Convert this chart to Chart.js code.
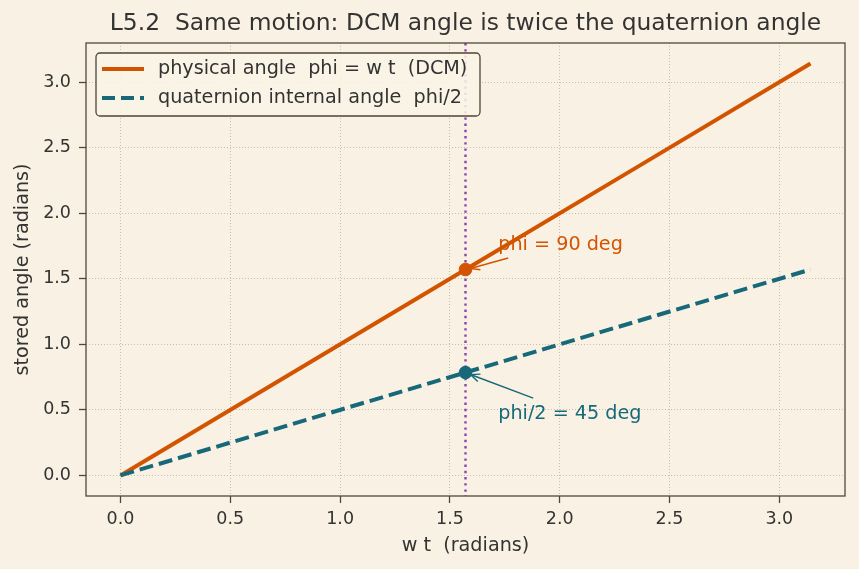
<!DOCTYPE html>
<html><head><meta charset="utf-8">
<script src="https://cdn.jsdelivr.net/npm/chart.js@4"></script>
<style>
html,body{margin:0;padding:0;background:#f9f2e4;}
#wrap{width:859px;height:569px;position:relative;}
</style></head>
<body><div id="wrap"><canvas id="c" width="859" height="569"></canvas></div>
<script>
// ---- data ----
const xValues = [0, 0.785, 1.571, 2.356, 3.142];
const physicalAngle = [0, 0.785, 1.571, 2.356, 3.142];
const quaternionAngle = [0, 0.393, 0.785, 1.178, 1.571];
const markerX = [1.571];
const markerPhysical = [1.571];
const markerQuat = [0.785];
const vlineX = 1.571;
const xTickValues = [0, 0.5, 1.0, 1.5, 2.0, 2.5, 3.0];
const yTickValues = [0, 0.5, 1.0, 1.5, 2.0, 2.5, 3.0];
const annoPhysical = {text: 'phi = 90 deg', textX: 1.72, textY: 1.72, tipX: 1.571, tipY: 1.571};
const annoQuat = {text: 'phi/2 = 45 deg', textX: 1.72, textY: 0.43, tipX: 1.571, tipY: 0.785};
const titleText = 'L5.2  Same motion: DCM angle is twice the quaternion angle';
const xTitle = 'w t  (radians)';
const yTitle = 'stored angle (radians)';
const legendLabels = ['physical angle  phi = w t  (DCM)', 'quaternion internal angle  phi/2'];

const ORANGE = '#d35400', TEAL = '#17697a', PURPLE = '#8e44ad';
const TEXT = '#333333', SPINE = '#504738', GRID = '#b9b1a2', BG = '#f9f2e4';
const FONT = "'DejaVu Sans', sans-serif";
const TICK_SIZE = 17.5, LABEL_SIZE = 19.2, TITLE_SIZE = 23.4, LEGEND_SIZE = 19.2;

const bgPlugin = {
  id: 'bg',
  beforeDraw(chart) {
    const ctx = chart.ctx;
    ctx.save(); ctx.fillStyle = BG; ctx.fillRect(0, 0, chart.width, chart.height); ctx.restore();
  }
};

function arrow(ctx, x1, y1, x2, y2, color) {
  ctx.save();
  ctx.strokeStyle = color; ctx.lineWidth = 1.4;
  ctx.beginPath(); ctx.moveTo(x1, y1); ctx.lineTo(x2, y2); ctx.stroke();
  const a = Math.atan2(y2 - y1, x2 - x1), L = 10, w = 0.4;
  ctx.beginPath();
  ctx.moveTo(x2 - L * Math.cos(a - w), y2 - L * Math.sin(a - w));
  ctx.lineTo(x2, y2);
  ctx.lineTo(x2 - L * Math.cos(a + w), y2 - L * Math.sin(a + w));
  ctx.stroke();
  ctx.restore();
}

const decoPlugin = {
  id: 'deco',
  beforeDatasetsDraw(chart) {
    const {ctx, chartArea: a, scales: {x}} = chart;
    const px = x.getPixelForValue(vlineX);
    ctx.save();
    ctx.strokeStyle = PURPLE; ctx.lineWidth = 2.4; ctx.setLineDash([2.4, 3.8]);
    ctx.beginPath(); ctx.moveTo(px, a.top); ctx.lineTo(px, a.bottom); ctx.stroke();
    ctx.restore();
  },
  afterDraw(chart) {
    const {ctx, chartArea: a, scales: {x, y}} = chart;
    ctx.save();
    // frame
    ctx.strokeStyle = SPINE; ctx.lineWidth = 1.3;
    ctx.strokeRect(a.left, a.top, a.right - a.left, a.bottom - a.top);
    // title
    ctx.fillStyle = TEXT; ctx.font = TITLE_SIZE + 'px ' + FONT;
    ctx.textAlign = 'center'; ctx.textBaseline = 'middle';
    ctx.fillText(titleText, (a.left + a.right) / 2, 24);
    // annotations
    ctx.font = LEGEND_SIZE + 'px ' + FONT; ctx.textAlign = 'left'; ctx.textBaseline = 'alphabetic';
    [[annoPhysical, ORANGE], [annoQuat, TEAL]].forEach(([an, col]) => {
      ctx.fillStyle = col;
      ctx.fillText(an.text, x.getPixelForValue(an.textX), y.getPixelForValue(an.textY));
    });
    const t1x = x.getPixelForValue(annoPhysical.textX), t1y = y.getPixelForValue(annoPhysical.textY);
    arrow(ctx, t1x + 10, t1y + 8, x.getPixelForValue(annoPhysical.tipX) + 5, y.getPixelForValue(annoPhysical.tipY) - 1, ORANGE);
    const t2x = x.getPixelForValue(annoQuat.textX), t2y = y.getPixelForValue(annoQuat.textY);
    arrow(ctx, t2x + 35, t2y - 21, x.getPixelForValue(annoQuat.tipX) + 5, y.getPixelForValue(annoQuat.tipY) + 2, TEAL);
    // legend
    const lx = 96, ly = 53, lw = 384, lh = 63, r = 4;
    ctx.fillStyle = 'rgba(250,244,232,0.85)';
    ctx.strokeStyle = '#4d4436'; ctx.lineWidth = 1.3;
    ctx.beginPath(); ctx.roundRect(lx, ly, lw, lh, r); ctx.fill(); ctx.stroke();
    ctx.lineWidth = 4;
    ctx.strokeStyle = ORANGE; ctx.setLineDash([]);
    ctx.beginPath(); ctx.moveTo(102, 69); ctx.lineTo(144, 69); ctx.stroke();
    ctx.strokeStyle = TEAL; ctx.setLineDash([13, 6]);
    ctx.beginPath(); ctx.moveTo(102, 98); ctx.lineTo(144, 98); ctx.stroke();
    ctx.setLineDash([]);
    ctx.fillStyle = TEXT; ctx.font = LEGEND_SIZE + 'px ' + FONT; ctx.textBaseline = 'middle';
    ctx.fillText(legendLabels[0], 158, 69);
    ctx.fillText(legendLabels[1], 158, 98);
    ctx.restore();
  }
};

const gridOpts = {color: GRID, lineWidth: 0.8, tickLength: 7,
                  tickColor: SPINE, tickWidth: 1.3, tickBorderDash: []};

new Chart(document.getElementById('c'), {
  type: 'line',
  data: {
    datasets: [
      {label: legendLabels[0], data: xValues.map((v, i) => ({x: v, y: physicalAngle[i]})),
       borderColor: ORANGE, borderWidth: 4, pointRadius: 0, fill: false, order: 2},
      {label: legendLabels[1], data: xValues.map((v, i) => ({x: v, y: quaternionAngle[i]})),
       borderColor: TEAL, borderWidth: 4, borderDash: [14, 6], pointRadius: 0, fill: false, order: 1},
      {label: 'm1', data: markerX.map((v, i) => ({x: v, y: markerPhysical[i]})), showLine: false,
       pointRadius: 6.3, pointBackgroundColor: ORANGE, pointBorderColor: ORANGE, order: 0},
      {label: 'm2', data: markerX.map((v, i) => ({x: v, y: markerQuat[i]})), showLine: false,
       pointRadius: 6.3, pointBackgroundColor: TEAL, pointBorderColor: TEAL, order: 0}
    ]
  },
  options: {
    responsive: false, animation: false,
    layout: {padding: {top: 43, right: 14, left: 0, bottom: 0}},
    plugins: {legend: {display: false}, title: {display: false}, tooltip: {enabled: false}},
    scales: {
      x: {
        type: 'linear', min: -0.157, max: 3.299,
        afterFit(s) { s.height = 73; },
        afterBuildTicks(s) { s.ticks = xTickValues.map(v => ({value: v})); },
        ticks: {color: TEXT, font: {family: FONT, size: TICK_SIZE}, padding: 6,
                callback: v => Number(v).toFixed(1)},
        grid: gridOpts,
        border: {display: false, dash: [1, 2]},
        title: {display: true, text: xTitle, color: TEXT, font: {family: FONT, size: LABEL_SIZE},
                padding: {top: 0, bottom: 11}}
      },
      y: {
        type: 'linear', min: -0.157, max: 3.299,
        afterFit(s) { s.width = 86; },
        afterBuildTicks(s) { s.ticks = yTickValues.map(v => ({value: v})); },
        ticks: {color: TEXT, font: {family: FONT, size: TICK_SIZE}, padding: 8,
                callback: v => Number(v).toFixed(1)},
        grid: gridOpts,
        border: {display: false, dash: [1, 2]},
        title: {display: true, text: yTitle, color: TEXT, font: {family: FONT, size: LABEL_SIZE},
                padding: {top: 11, bottom: 0}}
      }
    }
  },
  plugins: [bgPlugin, decoPlugin]
});
</script></body></html>
